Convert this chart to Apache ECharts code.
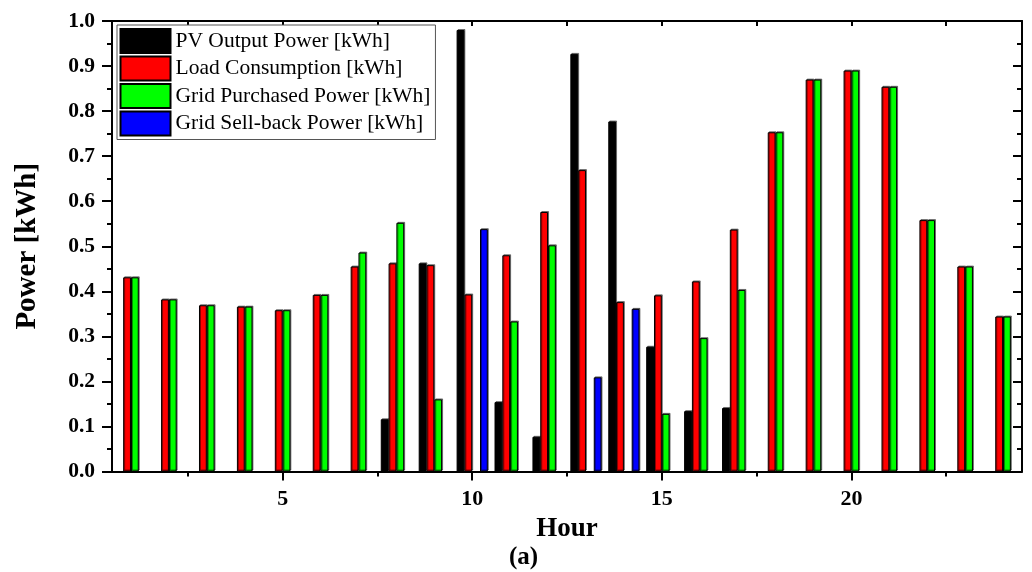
<!DOCTYPE html>
<html>
<head>
<meta charset="utf-8">
<title>Hourly power</title>
<script src="https://cdn.jsdelivr.net/npm/echarts@6/dist/echarts.min.js"></script>
<style>
  html, body { margin: 0; padding: 0; background: #fff; }
  #chart { width: 1032px; height: 572px; }
</style>
</head>
<body>
<div id="chart"></div>
<script>
// Hour of day (categories)
const hours = [1, 2, 3, 4, 5, 6, 7, 8, 9, 10, 11, 12, 13, 14, 15, 16, 17, 18, 19, 20, 21, 22, 23, 24];

// Hourly energy values [kWh]
const pvOutput        = [0, 0, 0, 0, 0, 0, 0, 0.116, 0.462, 0.980, 0.154, 0.077, 0.927, 0.777, 0.277, 0.134, 0.141, 0, 0, 0, 0, 0, 0, 0];
const loadConsumption = [0.431, 0.382, 0.369, 0.366, 0.358, 0.392, 0.455, 0.462, 0.458, 0.393, 0.480, 0.576, 0.669, 0.376, 0.391, 0.422, 0.537, 0.753, 0.870, 0.890, 0.854, 0.558, 0.455, 0.344];
const gridPurchased   = [0.431, 0.382, 0.369, 0.366, 0.358, 0.392, 0.486, 0.552, 0.160, 0, 0.333, 0.502, 0, 0, 0.128, 0.296, 0.403, 0.753, 0.870, 0.890, 0.854, 0.558, 0.455, 0.344];
const gridSellBack    = [0, 0, 0, 0, 0, 0, 0, 0, 0, 0.538, 0, 0, 0.209, 0.361, 0, 0, 0, 0, 0, 0, 0, 0, 0, 0];

// Axis ticks and labels
const xLabelValues = [5, 10, 15, 20];
const xMinorValues = [2.5, 7.5, 12.5, 17.5, 22.5];
const xTopValues   = [2.5, 5, 7.5, 10, 12.5, 15, 17.5, 20, 22.5];

const seriesNames = [
  'PV Output Power [kWh]',
  'Load Consumption [kWh]',
  'Grid Purchased Power [kWh]',
  'Grid Sell-back Power [kWh]'
];
const seriesColors = ['#000000', '#ff0000', '#00ff00', '#0000ff'];
const seriesData = [pvOutput, loadConsumption, gridPurchased, gridSellBack];

const SERIF = '"Liberation Serif", "Times New Roman", serif';

const chart = echarts.init(document.getElementById('chart'), null, { renderer: 'canvas' });

const barSeries = seriesData.map((arr, i) => ({
  name: seriesNames[i],
  type: 'bar',
  xAxisIndex: 0,
  yAxisIndex: 0,
  barWidth: 7.8,
  barGap: '0%',
  // empty hours leave their slot blank
  data: arr.map(v => (v === 0 ? '-' : v)),
  itemStyle: {
    color: seriesColors[i],
    borderColor: '#000',
    borderWidth: 1,
    shadowColor: 'rgba(0,0,0,0.45)',
    shadowOffsetX: 1,
    shadowOffsetY: -1,
    shadowBlur: 0
  },
  emphasis: { disabled: true },
  animation: false
}));

const baseValueAxis = {
  type: 'value',
  min: 0.5,
  max: 24.5,
  splitLine: { show: false },
  axisLabel: { show: false },
  axisLine: { show: false },
  axisTick: { show: false }
};

const option = {
  backgroundColor: '#ffffff',
  animation: false,
  grid: { left: 112, right: 10, top: 21, bottom: 100.5, containLabel: false },
  legend: {
    orient: 'vertical',
    left: 117,
    top: 25,
    itemWidth: 50,
    itemHeight: 24,
    itemGap: 1.5,
    padding: [3, 5, 3, 2.5],
    backgroundColor: '#ffffff',
    borderColor: '#555',
    borderWidth: 1,
    borderRadius: 0,
    icon: 'rect',
    selectedMode: false,
    itemStyle: { shadowBlur: 0, shadowColor: 'transparent', shadowOffsetX: 0, shadowOffsetY: 0 },
    textStyle: { fontFamily: SERIF, fontSize: 21.5, lineHeight: 24, color: '#000', padding: [0, 0, 0, 0] },
    data: seriesNames
  },
  xAxis: [
    {
      // band axis that carries the bars
      type: 'category',
      data: hours,
      position: 'bottom',
      boundaryGap: true,
      axisLine: { show: false },
      axisTick: { show: false },
      axisLabel: { show: false },
      splitLine: { show: false }
    },
    Object.assign({}, baseValueAxis, {
      position: 'bottom',
      name: 'Hour',
      nameLocation: 'middle',
      nameGap: 41,
      nameTextStyle: { fontFamily: SERIF, fontSize: 27, fontWeight: 'bold', color: '#000' },
      axisLine: { show: true, onZero: false, lineStyle: { color: '#000', width: 2 } },
      axisTick: { show: true, inside: false, length: 9, lineStyle: { color: '#000', width: 2 }, customValues: xLabelValues },
      axisLabel: {
        show: true, margin: 17, customValues: xLabelValues,
        fontFamily: SERIF, fontSize: 22, fontWeight: 'bold', color: '#000'
      }
    }),
    Object.assign({}, baseValueAxis, {
      position: 'bottom',
      axisTick: { show: true, inside: false, length: 5, lineStyle: { color: '#000', width: 2 }, customValues: xMinorValues }
    }),
    Object.assign({}, baseValueAxis, {
      position: 'top',
      axisLine: { show: true, onZero: false, lineStyle: { color: '#000', width: 2 } },
      axisTick: { show: true, inside: true, length: 5, lineStyle: { color: '#000', width: 2 }, customValues: xTopValues }
    })
  ],
  yAxis: [
    {
      type: 'value',
      position: 'left',
      min: 0,
      max: 1,
      interval: 0.1,
      name: 'Power [kWh]',
      nameLocation: 'middle',
      nameGap: 70,
      nameTextStyle: { fontFamily: SERIF, fontSize: 29, fontWeight: 'bold', color: '#000' },
      axisLine: { show: true, onZero: false, lineStyle: { color: '#000', width: 2 } },
      axisTick: { show: true, inside: false, length: 10, lineStyle: { color: '#000', width: 2 } },
      minorTick: { show: true, splitNumber: 2, length: 5, lineStyle: { color: '#000', width: 2 } },
      axisLabel: {
        margin: 17,
        fontFamily: SERIF, fontSize: 21.5, fontWeight: 'bold', color: '#000',
        formatter: v => v.toFixed(1)
      },
      splitLine: { show: false }
    },
    {
      type: 'value',
      position: 'right',
      min: 0,
      max: 1,
      interval: 0.1,
      axisLine: { show: true, onZero: false, lineStyle: { color: '#000', width: 2 } },
      axisTick: { show: true, inside: true, length: 9, lineStyle: { color: '#000', width: 2 } },
      minorTick: { show: true, splitNumber: 2, length: 5, lineStyle: { color: '#000', width: 2 } },
      axisLabel: { show: false },
      splitLine: { show: false }
    }
  ],
  graphic: [
    {
      type: 'text',
      left: 509,
      top: 545,
      style: {
        text: '(a)',
        font: 'bold 25px ' + SERIF,
        fill: '#000'
      }
    }
  ],
  series: barSeries
};

chart.setOption(option);
</script>
</body>
</html>
